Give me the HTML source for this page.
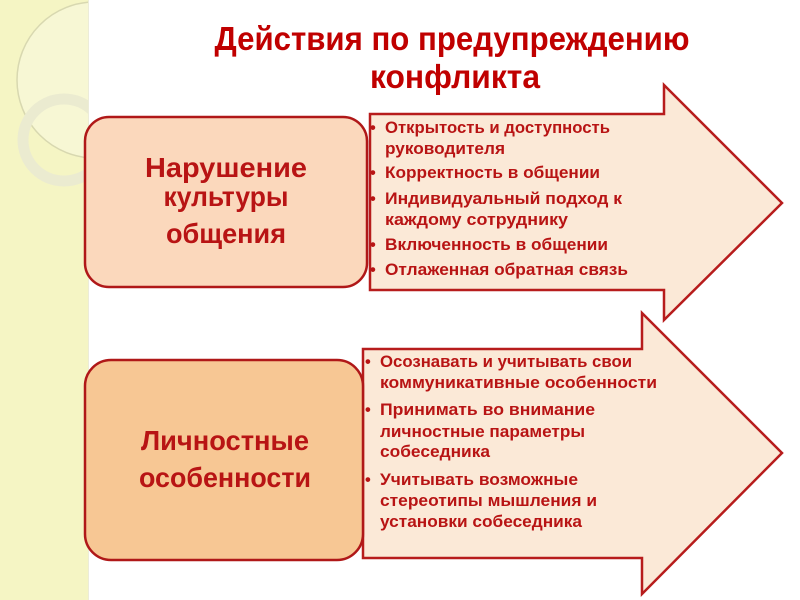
<!DOCTYPE html>
<html><head><meta charset="utf-8"><style>
html,body{margin:0;padding:0;background:#fff;}
svg{display:block;}
text{font-family:"Liberation Sans","DejaVu Sans",sans-serif;font-weight:bold;}
</style></head><body>
<svg width="800" height="600" viewBox="0 0 800 600" xmlns="http://www.w3.org/2000/svg">
<defs><clipPath id="strip"><rect x="0" y="0" width="88" height="600"/></clipPath></defs>
<rect x="0" y="0" width="88" height="600" fill="#f5f5c4"/>
<g clip-path="url(#strip)">
<circle cx="95" cy="80" r="78" fill="#f7f7d4" stroke="#d8d8b0" stroke-width="1.5"/>
<circle cx="64" cy="140" r="41" fill="none" stroke="#ebebd0" stroke-width="11"/>
</g>
<line x1="88.5" y1="0" x2="88.5" y2="600" stroke="#ececd8" stroke-width="1"/>

<text x="452" y="50" font-size="33" fill="#c00000" text-anchor="middle" textLength="475" lengthAdjust="spacingAndGlyphs">Действия по предупреждению</text>
<text x="455" y="88" font-size="33" fill="#c00000" text-anchor="middle" textLength="170" lengthAdjust="spacingAndGlyphs">конфликта</text>

<polygon points="370,114 664,114 664,85 782,203 664,320 664,290 370,290" fill="#fbe9d7" stroke="#b71c1c" stroke-width="2.5"/>
<polygon points="363,349 642,349 642,313 782,453 642,594 642,558 363,558" fill="#fbe9d7" stroke="#b71c1c" stroke-width="2.5"/>

<rect x="85" y="117" width="282" height="170" rx="24" fill="#fbd8bc" stroke="#b01818" stroke-width="2.5"/>
<rect x="85" y="360" width="278" height="200" rx="26" fill="#f7c794" stroke="#b01818" stroke-width="2.5"/>

<g fill="#b81414" font-size="28" text-anchor="middle">
<text x="226" y="177" textLength="162" lengthAdjust="spacingAndGlyphs">Нарушение</text>
<text x="226" y="206" textLength="125" lengthAdjust="spacingAndGlyphs">культуры</text>
<text x="226" y="243" textLength="120" lengthAdjust="spacingAndGlyphs">общения</text>
<text x="225" y="450" textLength="168" lengthAdjust="spacingAndGlyphs">Личностные</text>
<text x="225" y="487" textLength="172" lengthAdjust="spacingAndGlyphs">особенности</text>
</g>

<g fill="#b81414" font-size="16.5">
<text x="370" y="133">•</text>
<text x="385" y="133" textLength="225" lengthAdjust="spacingAndGlyphs">Открытость и доступность</text>
<text x="385" y="154" textLength="120" lengthAdjust="spacingAndGlyphs">руководителя</text>
<text x="370" y="178">•</text>
<text x="385" y="178" textLength="215" lengthAdjust="spacingAndGlyphs">Корректность в общении</text>
<text x="370" y="204">•</text>
<text x="385" y="204" textLength="237" lengthAdjust="spacingAndGlyphs">Индивидуальный подход к</text>
<text x="385" y="225" textLength="183" lengthAdjust="spacingAndGlyphs">каждому сотруднику</text>
<text x="370" y="250">•</text>
<text x="385" y="250" textLength="223" lengthAdjust="spacingAndGlyphs">Включенность в общении</text>
<text x="370" y="275">•</text>
<text x="385" y="275" textLength="243" lengthAdjust="spacingAndGlyphs">Отлаженная обратная связь</text>

<text x="365" y="367">•</text>
<text x="380" y="367" textLength="252" lengthAdjust="spacingAndGlyphs">Осознавать и учитывать свои</text>
<text x="380" y="388" textLength="277" lengthAdjust="spacingAndGlyphs">коммуникативные особенности</text>
<text x="365" y="415">•</text>
<text x="380" y="415" textLength="215" lengthAdjust="spacingAndGlyphs">Принимать во внимание</text>
<text x="380" y="437" textLength="205" lengthAdjust="spacingAndGlyphs">личностные параметры</text>
<text x="380" y="457" textLength="110" lengthAdjust="spacingAndGlyphs">собеседника</text>
<text x="365" y="485">•</text>
<text x="380" y="485" textLength="198" lengthAdjust="spacingAndGlyphs">Учитывать возможные</text>
<text x="380" y="506" textLength="217" lengthAdjust="spacingAndGlyphs">стереотипы мышления и</text>
<text x="380" y="527" textLength="202" lengthAdjust="spacingAndGlyphs">установки собеседника</text>
</g>
</svg>
</body></html>
